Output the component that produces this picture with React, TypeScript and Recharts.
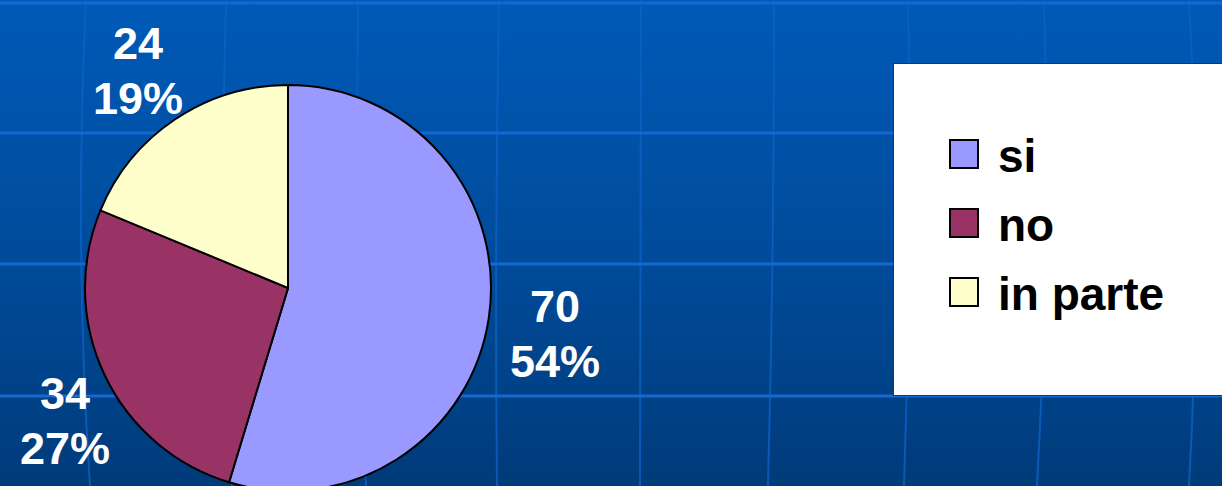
import { PieChart, Pie, Cell, Legend } from 'recharts'

const categories = ['si', 'no', 'in parte']
const values = [70, 34, 24]
const percentLabels = ['54%', '27%', '19%']
const colors = ['#9999FF', '#993366', '#FFFFCC']

// background template grid (decoration only)
const hLines = [3, 133, 264, 396]
const vLinesTop = [86, 226, 358, 499, 641, 774, 908, 1044, 1189]
const vLinesBottom = [90, 232, 366, 497, 640, 768, 904, 1037, 1189]

const W = 1222
const H = 486
const FONT = '"Liberation Sans", Arial, sans-serif'
const RADIAN = Math.PI / 180

const data = categories.map((name, i) => ({ name, value: values[i], pct: percentLabels[i] }))

function renderLabel(props: any) {
  const { cx, cy, midAngle, outerRadius, index } = props
  const dx = Math.cos(-midAngle * RADIAN)
  const dy = Math.sin(-midAngle * RADIAN)
  const hw = 45
  const hh = 43
  let x = cx + (outerRadius + 22) * dx + hw * dx
  let y = cy + (outerRadius + 22) * dy + hh * dy + 6
  // keep the label box inside the plot, sliding it along the pie edge
  if (x - hw < 20) {
    const shift = 20 + hw - x
    x += shift
    y += shift * 0.6
  }
  const b1 = y - 11.75
  return (
    <text
      x={x}
      y={b1}
      fill="#fff"
      textAnchor="middle"
      fontFamily={FONT}
      fontWeight="bold"
      fontSize={45}
    >
      <tspan x={x} y={b1}>{values[index]}</tspan>
      <tspan x={x} y={b1 + 55}>{percentLabels[index]}</tspan>
    </text>
  )
}

function LegendBox(props: any) {
  const payload: any[] = props.payload || []
  const items = categories.map((c, i) => {
    const p = payload.find((e) => e.value === c)
    return { label: c, color: (p && p.color) || colors[i] }
  })
  return (
    <svg width={340} height={333} style={{ display: 'block' }}>
      {items.map((it, i) => (
        <g key={it.label}>
          <rect x={56} y={76 + i * 69} width={28} height={28} fill={it.color} stroke="#000" strokeWidth={2} />
          <text x={104} y={108 + i * 69} fontFamily={FONT} fontWeight="bold" fontSize={46} fill="#000">
            {it.label}
          </text>
        </g>
      ))}
    </svg>
  )
}

export default function App() {
  return (
    <div
      style={{
        position: 'fixed',
        left: 0,
        top: 0,
        width: W,
        height: H,
        overflow: 'hidden',
        background: 'linear-gradient(to bottom, #005ab8 0%, #004c9c 50%, #003b7a 100%)',
      }}
    >
      <svg width={W} height={H} style={{ position: 'absolute', left: 0, top: 0 }}>
        {vLinesTop.map((xt, i) => {
          const xb = vLinesBottom[i]
          const ctrl = (xt + xb) / 2 + (xt - 640) * 0.025
          return (
            <path
              key={'v' + i}
              d={`M${xt},0 Q${ctrl},${H / 2} ${xb},${H}`}
              stroke="#0b62c6"
              strokeWidth={2}
              fill="none"
              opacity={0.8}
            />
          )
        })}
        {hLines.map((y) => (
          <line key={'h' + y} x1={0} x2={W} y1={y} y2={y} stroke="#1468d2" strokeWidth={3} />
        ))}
      </svg>
      <div style={{ position: 'absolute', left: 0, top: 0 }}>
        <PieChart width={W} height={H} margin={{ top: 0, right: 0, bottom: 0, left: 0 }}>
          <Pie
            data={data}
            dataKey="value"
            nameKey="name"
            cx={288}
            cy={288}
            outerRadius={203}
            startAngle={90}
            endAngle={-270}
            stroke="#000"
            strokeWidth={2}
            label={renderLabel}
            labelLine={false}
            legendType="square"
            isAnimationActive={false}
          >
            {data.map((d, i) => (
              <Cell key={d.name} fill={colors[i]} />
            ))}
          </Pie>
          <Legend
            content={<LegendBox />}
            wrapperStyle={{
              position: 'absolute',
              left: 893,
              top: 63,
              width: 340,
              height: 333,
              background: '#fff',
              border: '1px solid #333',
              boxSizing: 'border-box',
            }}
          />
        </PieChart>
      </div>
    </div>
  )
}
